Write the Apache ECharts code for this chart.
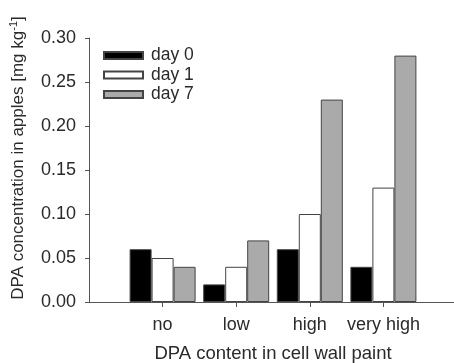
<!DOCTYPE html>
<html>
<head>
<meta charset="utf-8">
<script src="https://cdn.jsdelivr.net/npm/echarts@6/dist/echarts.min.js"></script>
<style>html,body{margin:0;padding:0;background:#fff;}#c{width:454px;height:363px;}</style>
</head>
<body>
<div id="c"></div>
<script>
var categories = ['no', 'low', 'high', 'very high'];
var day0 = [0.06, 0.02, 0.06, 0.04];
var day1 = [0.05, 0.04, 0.10, 0.13];
var day7 = [0.04, 0.07, 0.23, 0.28];
var seriesNames = ['day 0', 'day 1', 'day 7'];

var FONT = '"Liberation Sans", Arial, sans-serif';
var TXT = '#2a2a2a';
var axisCats = [''].concat(categories, ['']);
function pad(a) { return ['-'].concat(a, ['-']); }
var colors = ['#000000', '#ffffff', '#aaaaaa'];
var dataSets = [day0, day1, day7];

var chart = echarts.init(document.getElementById('c'), null, {renderer: 'canvas'});
chart.setOption({
  animation: false,
  backgroundColor: '#fff',
  grid: {left: 89, top: 38, bottom: 61, right: -3, containLabel: false, outerBoundsMode: 'none'},
  legend: {
    orient: 'vertical', left: 103, top: 46.5, padding: 0, itemWidth: 39, itemHeight: 7, itemGap: 1.5,
    icon: 'rect',
    textStyle: {fontFamily: FONT, fontSize: 17.5, color: TXT, lineHeight: 18, padding: [0, 0, 0, 3]},
    data: seriesNames
  },
  xAxis: {
    type: 'category', data: axisCats, boundaryGap: false,
    axisLine: {lineStyle: {color: '#555', width: 1}},
    axisTick: {show: true, length: 5, inside: false, interval: function (i) { return i > 0 && i < axisCats.length - 1; }, lineStyle: {color: '#555'}},
    axisLabel: {interval: 0, margin: 14, fontFamily: FONT, fontSize: 18, color: TXT},
    splitLine: {show: false},
    name: 'DPA content in cell wall paint', nameLocation: 'middle', nameGap: 42,
    nameTextStyle: {fontFamily: FONT, fontSize: 18.5, color: TXT}
  },
  yAxis: {
    type: 'value', min: 0, max: 0.3, interval: 0.05,
    axisLine: {show: true, lineStyle: {color: '#555', width: 1}},
    axisTick: {show: true, length: 4, lineStyle: {color: '#555'}},
    axisLabel: {margin: 13, fontFamily: FONT, fontSize: 18, color: TXT, formatter: function (v) { return v.toFixed(2); }},
    splitLine: {show: false}
  },
  graphic: [{
    type: 'text', x: 18, y: 158, rotation: Math.PI / 2,
    style: {
      text: '{a|DPA concentration in apples [mg kg}{s|-1}{a|]}',
      align: 'center', verticalAlign: 'middle',
      rich: {
        a: {fontFamily: FONT, fontSize: 17, fill: TXT, lineHeight: 20},
        s: {fontFamily: FONT, fontSize: 11, fill: TXT, verticalAlign: 'top', lineHeight: 20, padding: [0, 0, 8, 0]}
      }
    }
  }],
  series: seriesNames.map(function (n, k) {
    return {
      name: n, type: 'bar', barWidth: 22, barGap: '0%',
      data: pad(dataSets[k]),
      itemStyle: {color: colors[k], borderColor: '#444', borderWidth: 1}
    };
  })
});
</script>
</body>
</html>
